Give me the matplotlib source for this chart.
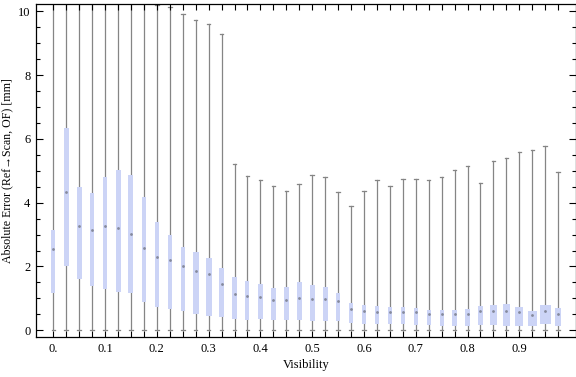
import matplotlib
matplotlib.use("Agg")
import matplotlib.pyplot as plt
import numpy as np
from matplotlib.patches import Rectangle

# visibility bins (box centres)
visibility = [i * 0.025 for i in range(40)]

# box statistics [mm]
lower_q = [1.17, 2.03, 1.62, 1.40, 1.28, 1.20, 1.17, 0.89, 0.73, 0.67,
           0.60, 0.51, 0.45, 0.42, 0.35, 0.31, 0.36, 0.31, 0.31, 0.31,
           0.28, 0.28, 0.29, 0.23, 0.20, 0.20, 0.20, 0.20, 0.17, 0.17,
           0.14, 0.14, 0.14, 0.17, 0.17, 0.14, 0.14, 0.14, 0.20, 0.14]
median = [2.54, 4.34, 3.26, 3.13, 3.26, 3.21, 3.02, 2.57, 2.29, 2.19,
          2.01, 1.86, 1.76, 1.46, 1.13, 1.07, 1.04, 0.95, 0.94, 1.00,
          0.98, 0.97, 0.91, 0.66, 0.59, 0.56, 0.56, 0.56, 0.56, 0.52,
          0.52, 0.50, 0.52, 0.59, 0.60, 0.60, 0.56, 0.47, 0.62, 0.52]
upper_q = [3.14, 6.35, 4.48, 4.30, 4.82, 5.01, 4.86, 4.17, 3.39, 3.00,
           2.60, 2.45, 2.26, 1.95, 1.66, 1.54, 1.46, 1.32, 1.35, 1.51,
           1.41, 1.35, 1.18, 0.87, 0.78, 0.75, 0.72, 0.72, 0.69, 0.63,
           0.63, 0.63, 0.66, 0.75, 0.78, 0.82, 0.72, 0.60, 0.78, 0.69]
whisker_lo = [0.0] * 40
# first boxes have whiskers running past the top of the frame
whisker_hi = [12.0, 12.0, 12.0, 12.0, 12.0, 12.0, 12.0, 12.0, 10.20, 10.15,
              9.91, 9.74, 9.59, 9.29, 5.20, 4.83, 4.70, 4.52, 4.38, 4.60,
              4.88, 4.79, 4.35, 3.91, 4.38, 4.70, 4.51, 4.73, 4.73, 4.70,
              4.79, 5.01, 5.15, 4.63, 5.32, 5.39, 5.58, 5.64, 5.77, 4.95]
# box widths (visibility units), they vary from bin to bin
box_width = [0.0083, 0.0091, 0.0091, 0.0091, 0.0091, 0.0097, 0.0097, 0.0083, 0.0083, 0.0083,
             0.0083, 0.0110, 0.0116, 0.0102, 0.0083, 0.0077, 0.0083, 0.0097, 0.0097, 0.0097,
             0.0097, 0.0097, 0.0077, 0.0077, 0.0077, 0.0077, 0.0077, 0.0077, 0.0077, 0.0077,
             0.0077, 0.0097, 0.0097, 0.0097, 0.0135, 0.0135, 0.0154, 0.0174, 0.0212, 0.0116]

x_tick_vals = [0.0, 0.1, 0.2, 0.3, 0.4, 0.5, 0.6, 0.7, 0.8, 0.9]
x_tick_labels = ["0.", "0.1", "0.2", "0.3", "0.4", "0.5", "0.6", "0.7", "0.8", "0.9"]
y_tick_vals = [0, 2, 4, 6, 8, 10]

plt.rcParams['font.family'] = ['Liberation Serif', 'DejaVu Serif']

W, H = 576, 377
fig = plt.figure(figsize=(W / 100, H / 100), dpi=100)
ax = fig.add_axes([36 / W, (H - 337.3) / H, (575.5 - 36) / W, (337.3 - 4.3) / H])

box_color = '#ccd4f6'
whisk_color = '#858585'
cap = 0.0034

for x, lo, q1, med, q3, hi, w in zip(visibility, whisker_lo, lower_q, median,
                                     upper_q, whisker_hi, box_width):
    # whisker line and caps
    ax.plot([x, x], [lo, hi], color=whisk_color, lw=0.9, zorder=1)
    ax.plot([x - cap, x + cap], [lo, lo], color=whisk_color, lw=0.9, zorder=1)
    ax.plot([x - cap, x + cap], [hi, hi], color=whisk_color, lw=0.9, zorder=1)
    # interquartile box
    ax.add_patch(Rectangle((x - w / 2, q1), w, q3 - q1, facecolor=box_color,
                           edgecolor='none', zorder=2))
    # median marker
    ax.plot([x], [med], marker='o', ms=2.0, color='#858a9c', mec='none', zorder=3)

ax.set_xlim(-0.0334, 1.0085)
ax.set_ylim(-0.22, 10.22)

ax.set_xticks(visibility, minor=True)
ax.set_xticks(x_tick_vals)
ax.set_xticklabels(x_tick_labels)
ax.set_yticks(y_tick_vals)
ax.set_yticks(np.arange(0, 10.01, 0.5), minor=True)

ax.tick_params(which='both', direction='in', top=True, right=True,
               colors='black', labelsize=9, width=0.8, pad=4)
ax.tick_params(axis='x', which='both', length=4)
ax.tick_params(axis='y', which='major', length=5)
ax.tick_params(axis='y', which='minor', length=3)
for s in ax.spines.values():
    s.set_linewidth(0.9)

ax.set_xlabel("Visibility", fontsize=9, labelpad=3)
ax.set_ylabel("Absolute Error (Ref\u2192Scan, OF) [mm]", fontsize=8.6, labelpad=3)

fig.savefig("out.png", dpi=100)
